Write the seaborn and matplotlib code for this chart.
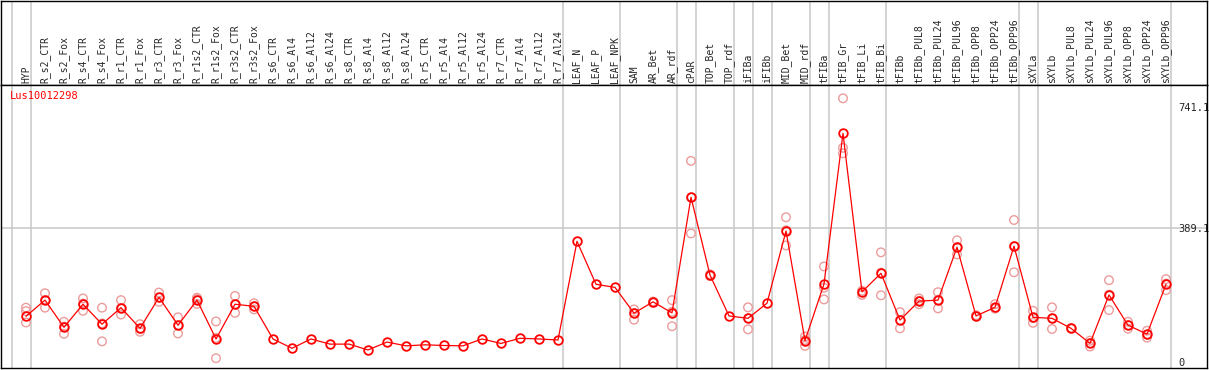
import seaborn as sns
import matplotlib.pyplot as plt
import pandas as pd

# Sample names (one column each)
samples = ["HYP", "R_s2_CTR", "R_s2_Fox", "R_s4_CTR", "R_s4_Fox", "R_r1_CTR", "R_r1_Fox",
           "R_r3_CTR", "R_r3_Fox", "R_r1s2_CTR", "R_r1s2_Fox", "R_r3s2_CTR", "R_r3s2_Fox",
           "R_s6_CTR", "R_s6_Al4", "R_s6_Al12", "R_s6_Al24", "R_s8_CTR", "R_s8_Al4", "R_s8_Al12",
           "R_s8_Al24", "R_r5_CTR", "R_r5_Al4", "R_r5_Al12", "R_r5_Al24", "R_r7_CTR", "R_r7_Al4",
           "R_r7_Al12", "R_r7_Al24", "LEAF_N", "LEAF_P", "LEAF_NPK", "SAM", "AR_Bet", "AR_rdf",
           "cPAR", "TOP_Bet", "TOP_rdf", "iFIBa", "iFIBb", "MID_Bet", "MID_rdf", "tFIBa",
           "tFIB_Gr", "tFIB_Li", "tFIB_Bi", "tFIBb", "tFIBb_PUL8", "tFIBb_PUL24", "tFIBb_PUL96",
           "tFIBb_OPP8", "tFIBb_OPP24", "tFIBb_OPP96", "sXYLa", "sXYLb", "sXYLb_PUL8",
           "sXYLb_PUL24", "sXYLb_PUL96", "sXYLb_OPP8", "sXYLb_OPP24", "sXYLb_OPP96"]

# Mean expression per sample
mean_expr = [133, 180, 101, 168, 110, 158, 98, 188, 107, 180, 67, 168, 162,
             67, 40, 67, 52, 52, 35, 58, 47, 50, 48, 47, 67, 54, 69, 67, 64,
             351, 226, 217, 142, 175, 143, 479, 253, 134, 127, 171, 381, 62, 227,
             665, 204, 258, 122, 177, 180, 334, 134, 159, 337, 130, 127, 98,
             54, 195, 107, 81, 226]

# Replicate values per sample
replicates = [[158, 148, 115], [200, 158, 180], [117, 82, 103], [185, 149, 170],
              [158, 60, 112], [180, 138, 157], [110, 88, 96], [202, 175, 188],
              [130, 83, 106], [187, 169, 183], [118, 11, 70], [192, 143, 168],
              [171, 153, 162],
              [], [], [], [], [], [], [], [], [], [], [], [], [], [], [], [],
              [], [], [], [153, 123, 142], [176, 172], [180, 104, 146],
              [585, 374, 479], [255, 250], [], [159, 95, 127], [],
              [421, 339, 383], [74, 47, 64], [278, 216, 182],
              [767, 623, 607], [195, 207], [319, 194, 260], [145, 98, 122],
              [185, 168, 178], [203, 156, 181], [354, 313, 334], [136, 132],
              [168, 155], [413, 261, 337], [149, 114, 128], [159, 96, 127],
              [99, 97], [62, 45, 55], [238, 151, 196], [117, 97, 107],
              [91, 71, 80], [241, 209, 228]]

# Last sample of each group (index), separators drawn after them
group_ends = [-1, 0, 28, 31, 34, 35, 37, 38, 39, 41, 42, 45, 52, 53, 60]

gene = "Lus10012298"
y_ticks = [0, 389.1, 741.1]

df_mean = pd.DataFrame({"idx": range(len(samples)), "value": mean_expr})
df_rep = pd.DataFrame([(i, v) for i, reps in enumerate(replicates) for v in reps],
                      columns=["idx", "value"])

sns.set_style("white")
plt.rcParams["font.family"] = ["DejaVu Sans Mono"]

W, H = 1209, 370
fig = plt.figure(figsize=(W / 100, H / 100), dpi=100)

# header strip (labels area) and main plot area, in pixel terms
hax = fig.add_axes([1 / W, (H - 85) / H, 1206 / W, 84.5 / H])
ax = fig.add_axes([1 / W, 2 / H, 1206 / W, 283 / H])
hax.set_facecolor("none")

xlim = ((1 - 26) / 19, (1207 - 26) / 19)
px = 0.3438
ylim = (-(368 - 362) / px, (362 - 85) / px)

grid_c = "#c8c8c8"
for a in (hax, ax):
    a.set_xlim(*xlim)
    for b in group_ends:
        a.axvline(b + 0.24, color=grid_c, lw=1.1, zorder=0)
    for s in a.spines.values():
        s.set_color("black")
        s.set_linewidth(1.0)
hax.set_ylim(0, 1)
hax.set_xticks([])
hax.set_yticks([])

ax.axhline(y_ticks[1], color=grid_c, lw=1.1, zorder=0)

pink = "#ec9c9c"
sns.scatterplot(data=df_rep, x="idx", y="value", ax=ax, marker="o", s=38,
                facecolor="none", edgecolor=pink, linewidth=1.0, zorder=2, legend=False)
sns.lineplot(data=df_mean, x="idx", y="value", ax=ax, color="red", lw=0.9,
             marker="o", markersize=6.2, markerfacecolor="none",
             markeredgecolor="red", markeredgewidth=1.3, errorbar=None, zorder=3)

ax.set_ylim(*ylim)
ax.set_xlim(*xlim)
ax.set_xlabel("")
ax.set_ylabel("")

ax.set_xticks(range(len(samples)))
ax.set_xticklabels(samples, rotation=90, fontsize=7)
ax.tick_params(axis="x", top=True, bottom=False, labeltop=True, labelbottom=False,
               length=0, pad=1.5)

ax.set_yticks(y_ticks)
ax.set_yticklabels([f"{v:g}" for v in y_ticks], fontsize=7.5)
ax.yaxis.tick_right()
ax.tick_params(axis="y", length=0, pad=-20.5, left=False, right=True)
for t in ax.get_yticklabels():
    t.set_horizontalalignment("left")

ax.text(9 / 1206, 1 - 6 / 283, gene, transform=ax.transAxes, color="red",
        fontsize=7.5, ha="left", va="top")

fig.savefig("out.png", dpi=100)
